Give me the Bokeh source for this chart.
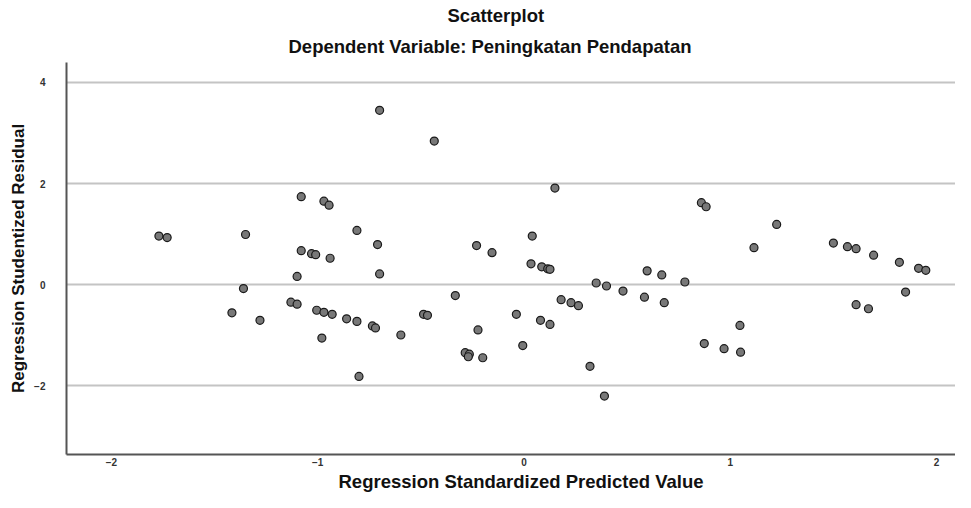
from bokeh.plotting import figure
from bokeh.models import Title, Range1d, FixedTicker
from bokeh.embed import file_html
from bokeh.resources import INLINE

# Regression Standardized Predicted Value
pred = [-0.70, -0.435, -1.08, -0.97, -0.945, 0.15, -1.77, -1.73, -1.35, -0.81,
        -0.71, -1.08, -1.03, -1.01, -0.94, -0.70, -1.10, -1.36, -1.13, -1.10,
        -1.416, -1.28, -1.005, -0.97, -0.93, -0.86, -0.81, -0.735, -0.72, -0.98,
        -0.80, -0.23, -0.155, 0.04, 0.034, 0.086, 0.115, 0.126, 0.597, 0.668,
        0.78, 0.35, 0.40, 0.48, 0.584, 0.68, -0.333, 0.18, 0.228, 0.264,
        -0.487, -0.468, -0.037, 0.08, 0.126, -0.597, -0.223, -0.006, -0.285, -0.265,
        -0.27, -0.20, 0.32, 0.39, 0.86, 0.883, 1.225, 1.115, 1.50, 1.568,
        1.61, 1.695, 1.82, 1.913, 1.948, 1.85, 1.61, 1.67, 1.047, 0.874,
        0.97, 1.05]
# Regression Studentized Residual
resid = [3.45, 2.84, 1.74, 1.65, 1.57, 1.91, 0.96, 0.93, 0.99, 1.07,
         0.79, 0.67, 0.61, 0.59, 0.52, 0.21, 0.16, -0.08, -0.35, -0.39,
         -0.56, -0.71, -0.51, -0.55, -0.59, -0.68, -0.73, -0.82, -0.86, -1.06,
         -1.82, 0.77, 0.63, 0.96, 0.41, 0.35, 0.31, 0.30, 0.27, 0.19,
         0.05, 0.03, -0.03, -0.13, -0.25, -0.36, -0.22, -0.30, -0.36, -0.42,
         -0.59, -0.61, -0.59, -0.71, -0.79, -1.00, -0.90, -1.21, -1.35, -1.38,
         -1.43, -1.45, -1.62, -2.21, 1.62, 1.54, 1.19, 0.73, 0.82, 0.75,
         0.71, 0.58, 0.44, 0.32, 0.28, -0.15, -0.40, -0.48, -0.81, -1.17,
         -1.27, -1.34]

x_ticks = [-2, -1, 0, 1, 2]
y_ticks = [-2, 0, 2, 4]

FONT = "Liberation Sans"

p = figure(width=955, height=492, output_backend="svg", toolbar_location=None,
           title=None, x_range=Range1d(-2.218, 2.092), y_range=Range1d(-3.366, 4.396),
           min_border_left=66, min_border_right=0, min_border_top=62, min_border_bottom=38)

p.add_layout(Title(text="Dependent Variable: Peningkatan Pendapatan", align="left",
                   text_font=FONT, text_font_size="18.5px", text_font_style="bold",
                   text_color="#111111", offset=222, standoff=12), "above")
p.add_layout(Title(text="Scatterplot", align="left",
                   text_font=FONT, text_font_size="18.5px", text_font_style="bold",
                   text_color="#111111", offset=381, standoff=4), "above")

p.outline_line_color = None
p.background_fill_color = "white"
p.border_fill_color = "white"

p.xgrid.visible = False
p.ygrid.ticker = FixedTicker(ticks=y_ticks)
p.ygrid.grid_line_color = "#c4c4c4"
p.ygrid.grid_line_width = 2

for ax in (p.xaxis[0], p.yaxis[0]):
    ax.axis_line_color = "#555555"
    ax.axis_line_width = 2
    ax.major_tick_line_color = None
    ax.minor_tick_line_color = None
    ax.major_tick_out = 0
    ax.major_tick_in = 0
    ax.minor_tick_out = 0
    ax.minor_tick_in = 0
    ax.major_label_text_font = FONT
    ax.major_label_text_font_size = "10px"
    ax.major_label_text_font_style = "bold"
    ax.major_label_text_color = "#333333"
    ax.axis_label_text_font = FONT
    ax.axis_label_text_font_style = "bold"
    ax.axis_label_text_color = "#111111"

p.xaxis.ticker = FixedTicker(ticks=x_ticks)
p.yaxis.ticker = FixedTicker(ticks=y_ticks)
p.xaxis.major_label_standoff = 3
p.yaxis.axis_label = "Regression Studentized Residual"
p.yaxis.axis_label_text_font_size = "17px"
p.yaxis.major_label_standoff = 21
p.yaxis.axis_label_standoff = 3

p.add_layout(Title(text="Regression Standardized Predicted Value", align="left",
                   text_font=FONT, text_font_size="18.5px", text_font_style="bold",
                   text_color="#111111", offset=272, standoff=0), "below")

p.scatter(pred, resid, size=8, fill_color="#787878", line_color="#1a1a1a", line_width=1.2)

open("out.html", "w").write(file_html(p, INLINE))
